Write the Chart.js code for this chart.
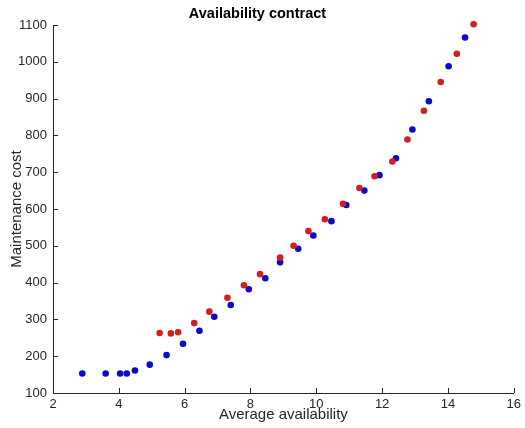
<!DOCTYPE html>
<html>
<head>
<meta charset="utf-8">
<script src="https://cdn.jsdelivr.net/npm/chart.js@4.4.1/dist/chart.umd.min.js"></script>
<style>
  html, body { margin: 0; padding: 0; background: #fff; }
  #wrap { width: 525px; height: 428px; }
</style>
</head>
<body>
<div id="wrap"><canvas id="chart" width="525" height="428"></canvas></div>
<script>
// red series
const redX = [5.24, 5.58, 5.80, 6.29, 6.75, 7.30, 7.80, 8.29, 8.90, 9.31, 9.76, 10.26, 10.81, 11.31, 11.77, 12.31, 12.77, 13.27, 13.78, 14.27, 14.78];
const redY = [263, 262, 265, 290, 321, 359, 393, 423, 468, 500, 540, 572, 614, 657, 689, 729, 789, 867, 945, 1022, 1102];

// blue series
const blueX = [2.89, 3.60, 4.04, 4.24, 4.49, 4.94, 5.45, 5.95, 6.45, 6.90, 7.40, 7.95, 8.45, 8.90, 9.45, 9.91, 10.46, 10.91, 11.46, 11.92, 12.42, 12.92, 13.42, 14.02, 14.52];
const blueY = [153, 153, 153, 153, 161, 177, 203, 234, 269, 307, 339, 382, 412, 455, 492, 528, 567, 611, 650, 692, 738, 816, 893, 988, 1066];

const xTicks = [2, 4, 6, 8, 10, 12, 14, 16];
const yTicks = [100, 200, 300, 400, 500, 600, 700, 800, 900, 1000, 1100];

const axisColor = '#262626';
const fontFamily = '"Liberation Sans", Arial, Helvetica, sans-serif';

function toPoints(xs, ys) {
    return xs.map((x, i) => ({x: x, y: ys[i]}));
}

// MATLAB style ticks point inward
const innerTicks = {
    id: 'innerTicks',
    afterDraw(chart) {
        const ctx = chart.ctx;
        const xs = chart.scales.x, ys = chart.scales.y;
        const area = chart.chartArea;
        ctx.save();
        ctx.strokeStyle = axisColor;
        ctx.lineWidth = 1;
        ctx.beginPath();
        for (const v of xTicks) {
            const px = Math.round(xs.getPixelForValue(v)) + 0.5;
            ctx.moveTo(px, area.bottom);
            ctx.lineTo(px, area.bottom - 5);
        }
        for (const v of yTicks) {
            const py = Math.round(ys.getPixelForValue(v)) + 0.5;
            ctx.moveTo(area.left, py);
            ctx.lineTo(area.left + 5, py);
        }
        ctx.stroke();
        ctx.restore();
    }
};

let ctx = document.getElementById('chart').getContext('2d');
let myChart = new Chart(ctx, {
    type: 'scatter',
    data: {
        datasets: [{
            label: 'red',
            data: toPoints(redX, redY),
            backgroundColor: '#d21e1e',
            borderColor: '#d21e1e',
            pointRadius: 3.3,
            borderWidth: 0,
            clip: false
        }, {
            label: 'blue',
            data: toPoints(blueX, blueY),
            backgroundColor: '#0a0ac8',
            borderColor: '#0a0ac8',
            pointRadius: 3.3,
            borderWidth: 0,
            clip: false
        }]
    },
    options: {
        responsive: false,
        animation: false,
        layout: {
            padding: {left: 0, right: 10, top: 0, bottom: 0}
        },
        plugins: {
            legend: { display: false },
            tooltip: { enabled: false },
            title: {
                display: true,
                text: 'Availability contract',
                color: '#000',
                font: { family: fontFamily, size: 14.5, weight: 'bold' },
                padding: { top: 5, bottom: 2.6 }
            }
        },
        scales: {
            x: {
                type: 'linear',
                min: 2,
                max: 16,
                afterBuildTicks: (scale) => { scale.ticks = xTicks.map(v => ({value: v})); },
                afterFit: (scale) => { scale.height = 35; },
                grid: { display: false, drawTicks: false },
                border: { display: true, color: axisColor, width: 1 },
                ticks: {
                    color: axisColor,
                    padding: 4,
                    maxRotation: 0,
                    font: { family: fontFamily, size: 13 },
                    callback: (v) => String(v)
                },
                title: {
                    display: true,
                    text: 'Average availability',
                    color: axisColor,
                    font: { family: fontFamily, size: 15 },
                    padding: { top: 0, bottom: 4 }
                }
            },
            y: {
                type: 'linear',
                min: 100,
                max: 1100,
                afterBuildTicks: (scale) => { scale.ticks = yTicks.map(v => ({value: v})); },
                afterFit: (scale) => { scale.width = 53; },
                grid: { display: false, drawTicks: false },
                border: { display: true, color: axisColor, width: 1 },
                ticks: {
                    color: axisColor,
                    padding: 6,
                    font: { family: fontFamily, size: 13 },
                    callback: (v) => String(v)
                },
                title: {
                    display: true,
                    text: 'Maintenance cost',
                    color: axisColor,
                    font: { family: fontFamily, size: 15 },
                    padding: { top: 8, bottom: 0 }
                }
            }
        }
    },
    plugins: [innerTicks]
});
</script>
</body>
</html>
